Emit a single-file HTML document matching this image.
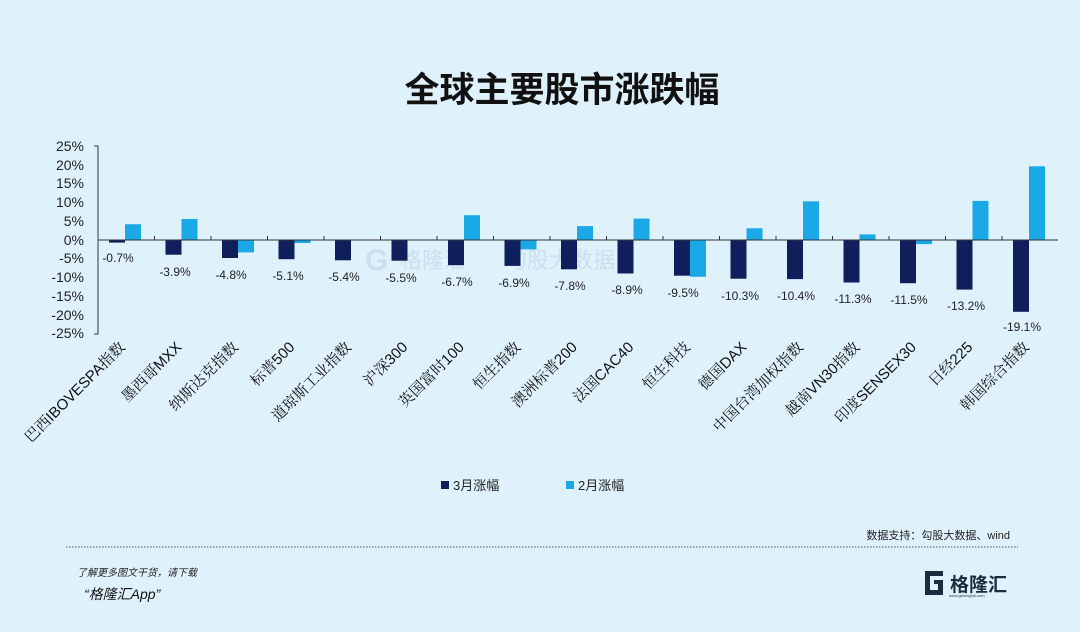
<!DOCTYPE html>
<html><head><meta charset="utf-8"><style>
html,body{margin:0;padding:0;background:#dff1fb;}
body{width:1080px;height:632px;overflow:hidden;position:relative;font-family:"Liberation Sans","Noto Sans CJK SC",sans-serif;}
</style></head><body>
<svg width="1080" height="632" viewBox="0 0 1080 632" xmlns="http://www.w3.org/2000/svg" style="position:absolute;left:0;top:0">
<rect width="1080" height="632" fill="#dff1fb"/>
<text x="562" y="102" text-anchor="middle" font-size="35" font-weight="bold" font-family="Noto Sans CJK SC, sans-serif" fill="#111">全球主要股市涨跌幅</text>
<g opacity="0.3" fill="#9fb6cc">
<text x="365" y="270" font-size="30" font-weight="bold" font-family="Liberation Sans, sans-serif">G</text>
<text x="400" y="268" font-size="22" font-family="Noto Sans CJK SC, sans-serif">格隆汇</text>
<text x="505" y="268" font-size="22" font-family="Noto Sans CJK SC, sans-serif">勾股大数据</text>
</g>
<g font-size="14" fill="#222" text-anchor="end" font-family="Liberation Sans, sans-serif">
<text x="84" y="151">25%</text><text x="84" y="170">20%</text><text x="84" y="188">15%</text><text x="84" y="207">10%</text><text x="84" y="226">5%</text><text x="84" y="245">0%</text><text x="84" y="263">-5%</text><text x="84" y="282">-10%</text><text x="84" y="301">-15%</text><text x="84" y="320">-20%</text><text x="84" y="338">-25%</text>
</g>
<g stroke="#333" stroke-width="1">
<line x1="98" y1="146" x2="98" y2="334"/>
<line x1="94" y1="146" x2="98" y2="146"/><line x1="94" y1="334" x2="98" y2="334"/>
</g>
<g fill="#0e1f5b">
<rect x="109" y="240" width="16" height="2.6"/>
<rect x="165.5" y="240" width="16" height="14.7"/>
<rect x="222" y="240" width="16" height="18"/>
<rect x="278.5" y="240" width="16" height="19.2"/>
<rect x="335" y="240" width="16" height="20.3"/>
<rect x="391.5" y="240" width="16" height="20.7"/>
<rect x="448" y="240" width="16" height="25.2"/>
<rect x="504.5" y="240" width="16" height="25.9"/>
<rect x="561" y="240" width="16" height="29.3"/>
<rect x="617.5" y="240" width="16" height="33.5"/>
<rect x="674" y="240" width="16" height="35.7"/>
<rect x="730.5" y="240" width="16" height="38.7"/>
<rect x="787" y="240" width="16" height="39.1"/>
<rect x="843.5" y="240" width="16" height="42.5"/>
<rect x="900" y="240" width="16" height="43.2"/>
<rect x="956.5" y="240" width="16" height="49.6"/>
<rect x="1013" y="240" width="16" height="71.8"/>
</g>
<g fill="#1aa9e6">
<rect x="125" y="224.2" width="16" height="15.8"/>
<rect x="181.5" y="219" width="16" height="21"/>
<rect x="238" y="240" width="16" height="12.4"/>
<rect x="294.5" y="240" width="16" height="3"/>
<rect x="464" y="215.2" width="16" height="24.8"/>
<rect x="520.5" y="240" width="16" height="9.4"/>
<rect x="577" y="226.1" width="16" height="13.9"/>
<rect x="633.5" y="218.6" width="16" height="21.4"/>
<rect x="690" y="240" width="16" height="36.8"/>
<rect x="746.5" y="228.3" width="16" height="11.7"/>
<rect x="803" y="201.3" width="16" height="38.7"/>
<rect x="859.5" y="234.4" width="16" height="5.6"/>
<rect x="916" y="240" width="16" height="4.1"/>
<rect x="972.5" y="200.9" width="16" height="39.1"/>
<rect x="1029" y="166.3" width="16" height="73.7"/>
</g>
<line x1="98" y1="240" x2="1058" y2="240" stroke="#333" stroke-width="1"/>
<g stroke="#333" stroke-width="1">
<line x1="154.5" y1="240" x2="154.5" y2="236"/><line x1="211" y1="240" x2="211" y2="236"/><line x1="267.5" y1="240" x2="267.5" y2="236"/><line x1="324" y1="240" x2="324" y2="236"/><line x1="380.5" y1="240" x2="380.5" y2="236"/><line x1="437" y1="240" x2="437" y2="236"/><line x1="493.5" y1="240" x2="493.5" y2="236"/><line x1="550" y1="240" x2="550" y2="236"/><line x1="606.5" y1="240" x2="606.5" y2="236"/><line x1="663" y1="240" x2="663" y2="236"/><line x1="719.5" y1="240" x2="719.5" y2="236"/><line x1="776" y1="240" x2="776" y2="236"/><line x1="832.5" y1="240" x2="832.5" y2="236"/><line x1="889" y1="240" x2="889" y2="236"/><line x1="945.5" y1="240" x2="945.5" y2="236"/><line x1="1002" y1="240" x2="1002" y2="236"/>
</g>
<g font-size="12" fill="#222" text-anchor="middle" font-family="Liberation Sans, sans-serif">
<text x="118" y="262">-0.7%</text>
<text x="175" y="276">-3.9%</text>
<text x="231" y="279">-4.8%</text>
<text x="288" y="280">-5.1%</text>
<text x="344" y="281">-5.4%</text>
<text x="401" y="282">-5.5%</text>
<text x="457" y="286">-6.7%</text>
<text x="514" y="287">-6.9%</text>
<text x="570" y="290">-7.8%</text>
<text x="627" y="294">-8.9%</text>
<text x="683" y="297">-9.5%</text>
<text x="740" y="300">-10.3%</text>
<text x="796" y="300">-10.4%</text>
<text x="853" y="303">-11.3%</text>
<text x="909" y="304">-11.5%</text>
<text x="966" y="310">-13.2%</text>
<text x="1022" y="331">-19.1%</text>
</g>
<g font-size="15" fill="#111" text-anchor="end" font-family="Liberation Sans, Noto Serif CJK SC, serif">
<text transform="translate(126,348) rotate(-45)">巴西IBOVESPA指数</text>
<text transform="translate(182.5,348) rotate(-45)">墨西哥MXX</text>
<text transform="translate(239,348) rotate(-45)">纳斯达克指数</text>
<text transform="translate(295.5,348) rotate(-45)">标普500</text>
<text transform="translate(352,348) rotate(-45)">道琼斯工业指数</text>
<text transform="translate(408.5,348) rotate(-45)">沪深300</text>
<text transform="translate(465,348) rotate(-45)">英国富时100</text>
<text transform="translate(521.5,348) rotate(-45)">恒生指数</text>
<text transform="translate(578,348) rotate(-45)">澳洲标普200</text>
<text transform="translate(634.5,348) rotate(-45)">法国CAC40</text>
<text transform="translate(691,348) rotate(-45)">恒生科技</text>
<text transform="translate(747.5,348) rotate(-45)">德国DAX</text>
<text transform="translate(804,348) rotate(-45)">中国台湾加权指数</text>
<text transform="translate(860.5,348) rotate(-45)">越南VN30指数</text>
<text transform="translate(917,348) rotate(-45)">印度SENSEX30</text>
<text transform="translate(973.5,348) rotate(-45)">日经225</text>
<text transform="translate(1030,348) rotate(-45)">韩国综合指数</text>
</g>
<rect x="441" y="481" width="8" height="8" fill="#0e1f5b"/>
<text x="453" y="490" font-size="13" fill="#222" font-family="Liberation Sans, Noto Sans CJK SC, sans-serif">3月涨幅</text>
<rect x="566" y="481" width="8" height="8" fill="#1aa9e6"/>
<text x="578" y="490" font-size="13" fill="#222" font-family="Liberation Sans, Noto Sans CJK SC, sans-serif">2月涨幅</text>
<text x="1010" y="539" text-anchor="end" font-size="11" fill="#222" font-family="Liberation Sans, Noto Sans CJK SC, sans-serif">数据支持：勾股大数据、wind</text>
<line x1="66" y1="547" x2="1018" y2="547" stroke="#555" stroke-width="1" stroke-dasharray="1.5,1.5"/>
<text x="77" y="576" font-size="10" font-style="italic" fill="#222" font-family="Liberation Sans, Noto Sans CJK SC, sans-serif">了解更多图文干货，请下载</text>
<text x="84" y="599" font-size="14" font-style="italic" fill="#111" font-family="Liberation Sans, Noto Sans CJK SC, sans-serif">“格隆汇App”</text>
<path d="M925 571 h18 v5 h-13 v14 h8 v-6 h-4 v-4 h9 v15 h-18 z" fill="#1e2b3f"/>
<text x="950" y="591" font-size="19" font-weight="bold" fill="#1e2b3f" font-family="Noto Sans CJK SC, sans-serif">格隆汇</text>
<text x="949" y="597" font-size="4" fill="#333" font-family="Liberation Sans, sans-serif">www.gelonghui.com</text>
</svg>
</body></html>
